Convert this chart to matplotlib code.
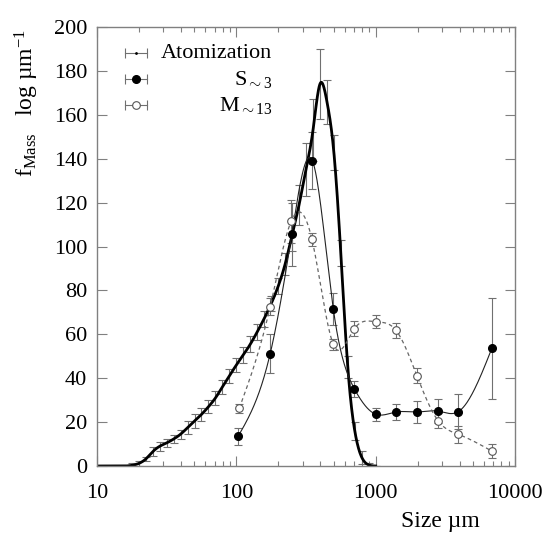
import numpy as np
import matplotlib
matplotlib.use("Agg")
import matplotlib.pyplot as plt
from matplotlib.ticker import FixedLocator, FixedFormatter, LogLocator, NullFormatter

plt.rcParams['font.family'] = ['Liberation Serif', 'DejaVu Serif']
plt.rcParams['mathtext.fontset'] = 'custom'
plt.rcParams['mathtext.rm'] = 'Liberation Serif'
plt.rcParams['mathtext.it'] = 'Liberation Serif:italic'

# atomization distribution (size in um, f_Mass)
atom_size = [10, 11.2, 12.6, 14.1, 15.8, 17.8, 20, 22.4, 25.1, 28.2, 31.6, 35.5, 39.8,
             44.7, 50.1, 56.2, 63.1, 70.8, 79.4, 89.1, 100, 112, 126, 141, 158, 178,
             200, 224, 251, 282, 316, 355, 398, 447, 501, 562, 631, 708, 794, 891, 1000]
atom_f = [0, 0, 0, 0, 0, 0.3, 1.2, 3.2, 6.5, 9.0, 10.5, 12.3, 14.5,
          17.5, 20.5, 23.5, 27, 31, 36, 41, 46, 50.5, 55.5, 61, 67, 74,
          82, 92, 105, 119, 135, 153, 174, 166, 143, 97, 45, 16, 4, 0.5, 0]
atom_err = [0, 0, 0, 0, 0, 1, 1, 1, 2, 2, 2, 2, 2,
            3, 3, 3, 3, 3, 3, 3, 3, 3.5, 3.5, 3.5, 3.5, 3.5,
            3.5, 5, 7, 9, 12, 14, 16, 10, 8, 6, 5, 4, 3, 1, 0]

# S~3 samples
s_size = [103, 175, 250, 352, 497, 703, 1000, 1400, 1975, 2800, 3930, 6820]
s_f = [13.5, 51.2, 105.5, 139, 71.4, 35.2, 23.6, 24.6, 24.6, 25.0, 24.8, 53.6]
s_err = [3.8, 9, 14.5, 13, 7.2, 3.6, 3, 3.5, 5, 5.3, 8, 23]

# M~13 samples
m_size = [105, 175, 247, 349, 497, 703, 1000, 1400, 1975, 2800, 3930, 6820]
m_f = [26.3, 72.6, 111.4, 103.2, 55.4, 62.5, 65.7, 61.8, 41.2, 20.7, 14.4, 6.8]
m_err = [2, 3.8, 9.9, 3, 2.5, 3.5, 3, 3.5, 3.5, 3.5, 4, 3]


def cspline(x, y, n=400):
    # natural cubic spline in log10(x), like gnuplot "smooth csplines"
    u = np.log10(np.asarray(x, float))
    y = np.asarray(y, float)
    k = len(u)
    h = np.diff(u)
    A = np.zeros((k, k))
    b = np.zeros(k)
    A[0, 0] = A[-1, -1] = 1
    for i in range(1, k - 1):
        A[i, i - 1] = h[i - 1]
        A[i, i] = 2 * (h[i - 1] + h[i])
        A[i, i + 1] = h[i]
        b[i] = 6 * ((y[i + 1] - y[i]) / h[i] - (y[i] - y[i - 1]) / h[i - 1])
    M = np.linalg.solve(A, b)
    uu = np.linspace(u[0], u[-1], n)
    j = np.clip(np.searchsorted(u, uu) - 1, 0, k - 2)
    t1 = u[j + 1] - uu
    t0 = uu - u[j]
    hj = h[j]
    yy = (M[j] * t1 ** 3 + M[j + 1] * t0 ** 3) / (6 * hj) \
        + (y[j] / hj - M[j] * hj / 6) * t1 + (y[j + 1] / hj - M[j + 1] * hj / 6) * t0
    return 10 ** uu, yy


fig = plt.figure(figsize=(5.52, 5.36), dpi=100)
ax = fig.add_axes([97 / 552, 1 - 466 / 536, 418 / 552, 439 / 536])

ecol = '#707070'
ax.errorbar(atom_size, atom_f, yerr=atom_err, fmt='none', ecolor=ecol,
            elinewidth=0.8, capsize=3, capthick=0.8)
ax.errorbar(s_size, s_f, yerr=s_err, fmt='none', ecolor=ecol,
            elinewidth=0.8, capsize=3, capthick=0.8)
ax.errorbar(m_size, m_f, yerr=m_err, fmt='none', ecolor=ecol,
            elinewidth=0.8, capsize=3, capthick=0.8)

xa, ya = cspline(atom_size, atom_f, 800)
ax.plot(xa, ya, color='black', lw=2.0)
xs, ys = cspline(s_size, s_f)
ax.plot(xs, ys, color='#222222', lw=0.8)
xm, ym = cspline(m_size, m_f)
ax.plot(xm, ym, color='#666666', lw=0.9, ls=(0, (3, 2.5)))

ax.plot(s_size, s_f, 'o', ms=5.5, color='black')
ax.plot(m_size, m_f, 'o', ms=5.5, mfc='white', mec='#555555', mew=0.8)

ax.set_xscale('log')
ax.set_xlim(10, 10000)
ax.set_ylim(0, 200)
ax.xaxis.set_major_locator(FixedLocator([10, 100, 1000, 10000]))
ax.xaxis.set_major_formatter(FixedFormatter(['10', '100', '1000', '10000']))
ax.xaxis.set_minor_locator(LogLocator(base=10, subs=np.arange(2, 10)))
ax.xaxis.set_minor_formatter(NullFormatter())
ax.set_yticks(np.arange(0, 201, 20))

ax.tick_params(which='both', direction='in', top=True, right=True, color='#808080',
               labelsize=16, width=0.8)
ax.tick_params(which='major', length=7)
ax.tick_params(which='minor', length=3.5)
ax.tick_params(axis='x', pad=13)
ax.tick_params(axis='y', pad=7)
for sp in ax.spines.values():
    sp.set_color('#808080')
    sp.set_linewidth(1.0)

# legend, gnuplot style
tr = ax.transAxes
rows = [('Atomization', 'dot'), (r'S$_{\sim 3}$', 'filled'), (r'M$_{\sim 13}$', 'open')]
for i, (lab, kind) in enumerate(rows):
    yy = 1 - (26 + 26 * i) / 439
    x0, x1 = 28 / 418, 50 / 418
    ax.plot([x0, x1], [yy, yy], transform=tr, color=ecol, lw=0.8)
    ax.plot([x0, x1], [yy, yy], '|', transform=tr, color=ecol, ms=7, mew=0.8)
    xc = (x0 + x1) / 2
    if kind == 'dot':
        ax.plot([xc], [yy], '.', transform=tr, color='black', ms=2)
    elif kind == 'filled':
        ax.plot([xc], [yy], 'o', transform=tr, color='black', ms=5.5)
    else:
        ax.plot([xc], [yy], 'o', transform=tr, mfc='white', mec='#555555', ms=5.5, mew=0.8)
    ax.text(175 / 418, yy, lab, transform=tr, ha='right', va='center', fontsize=16)

fig.text(27 / 552, 1 - 103 / 536, r'f$_{\mathrm{Mass}}$   log µm$^{\mathrm{-1}}$',
         rotation=90, ha='center', va='center', fontsize=17)
fig.text(440 / 552, 1 - 522 / 536, 'Size µm', ha='center', va='center', fontsize=17)

fig.savefig('out.png', dpi=100)
